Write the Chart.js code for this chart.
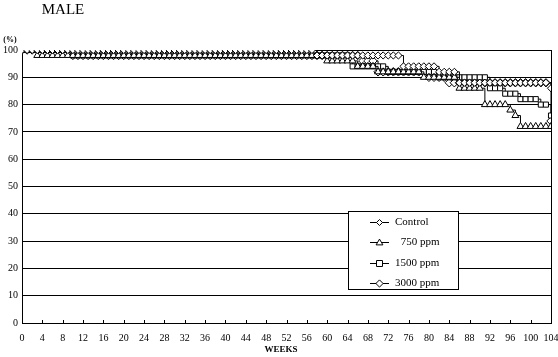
<!DOCTYPE html>
<html>
<head>
<meta charset="utf-8">
<script src="https://cdn.jsdelivr.net/npm/chart.js@4"></script>
<style>
html,body{margin:0;padding:0;background:#fff;}
#wrap{width:558px;height:357px;}
</style>
</head>
<body>
<div id="wrap"><canvas id="c" width="558" height="357"></canvas></div>
<script>
// Weeks 0..104 (one survival value per week, %)
const weeks = [];
for (let w = 0; w <= 104; w++) weeks.push(w);

const controlVals = [
  100,100,100,100,100,100,100,100,100,100,
  100,100,100,100,100,100,100,100,100,100,
  100,100,100,100,100,100,100,100,100,100,
  100,100,100,100,100,100,100,100,100,100,
  100,100,100,100,100,100,100,100,100,100,
  100,100,100,100,100,100,100,100,98,98,
  98,98,98,98,98,98,98,98,98,98,
  98,98,98,98,98,94,94,94,94,94,
  94,94,92,92,92,92,88,88,88,88,
  88,88,88,88,88,88,88,88,88,88,
  88,88,88,88,86
];
const ppm750Vals = [
  100,100,100,98,98,98,98,98,98,98,
  98,98,98,98,98,98,98,98,98,98,
  98,98,98,98,98,98,98,98,98,98,
  98,98,98,98,98,98,98,98,98,98,
  98,98,98,98,98,98,98,98,98,98,
  98,98,98,98,98,98,98,98,98,98,
  96,96,96,96,96,96,94,94,94,94,
  92,92,92,92,92,92,92,92,92,90,
  90,90,90,90,90,90,86,86,86,86,
  86,80,80,80,80,80,78,76,72,72,
  72,72,72,72,72
];
const ppm1500Vals = [
  100,100,100,100,100,100,100,100,100,100,
  98,98,98,98,98,98,98,98,98,98,
  98,98,98,98,98,98,98,98,98,98,
  98,98,98,98,98,98,98,98,98,98,
  98,98,98,98,98,98,98,98,98,98,
  98,98,98,98,98,98,98,98,98,98,
  98,98,98,98,98,94,94,94,94,94,
  94,94,92,92,92,92,92,92,92,92,
  92,92,90,90,90,90,90,90,90,90,
  90,90,86,86,86,84,84,84,82,82,
  82,82,80,80,76
];
const ppm3000Vals = [
  100,100,100,100,100,100,100,100,100,100,
  98,98,98,98,98,98,98,98,98,98,
  98,98,98,98,98,98,98,98,98,98,
  98,98,98,98,98,98,98,98,98,98,
  98,98,98,98,98,98,98,98,98,98,
  98,98,98,98,98,98,98,98,98,98,
  98,98,98,98,98,98,98,96,96,96,
  92,92,92,92,92,92,92,92,92,92,
  90,90,90,90,88,88,88,88,88,88,
  88,88,88,88,88,88,88,88,88,88,
  88,88,88,88,74
];
const seriesNames = ['Control', ' 750 ppm', '1500 ppm', '3000 ppm'];
const xTicks = [0,4,8,12,16,20,24,28,32,36,40,44,48,52,56,60,64,68,72,76,80,84,88,92,96,100,104];
const yTicks = [0,10,20,30,40,50,60,70,80,90,100];

const FONT = '"Liberation Serif", "DejaVu Serif", serif';
const styles = [
  {pointStyle:'rectRot', radius:3.6},
  {pointStyle:'triangle', radius:4},
  {pointStyle:'rect', radius:3.6},
  {pointStyle:'rectRot', radius:4.2}
];
const allVals = [controlVals, ppm750Vals, ppm1500Vals, ppm3000Vals];

const datasets = allVals.map((vals, i) => ({
  label: seriesNames[i],
  data: vals.map((v, k) => ({x: weeks[k], y: v})),
  borderColor: '#000',
  borderWidth: 1,
  backgroundColor: '#fff',
  pointBackgroundColor: '#fff',
  pointBorderColor: '#000',
  pointBorderWidth: 1,
  pointStyle: styles[i].pointStyle,
  pointRadius: styles[i].radius,
  stepped: true,
  fill: false
}));

function drawMarker(ctx, style, r, x, y) {
  ctx.beginPath();
  if (style === 'rectRot') {
    ctx.moveTo(x, y - r); ctx.lineTo(x + r, y); ctx.lineTo(x, y + r); ctx.lineTo(x - r, y); ctx.closePath();
  } else if (style === 'triangle') {
    ctx.moveTo(x, y - r); ctx.lineTo(x + r, y + r * 0.7); ctx.lineTo(x - r, y + r * 0.7); ctx.closePath();
  } else {
    ctx.rect(x - r, y - r, 2 * r, 2 * r);
  }
  ctx.fillStyle = '#fff'; ctx.fill();
  ctx.strokeStyle = '#000'; ctx.lineWidth = 1; ctx.stroke();
}

const decor = {
  id: 'decor',
  afterDatasetsDraw(chart) {
    const ctx = chart.ctx;
    const a = chart.chartArea;
    const xs = chart.scales.x;
    ctx.save();
    // right frame line
    ctx.strokeStyle = '#000'; ctx.lineWidth = 1;
    ctx.beginPath();
    ctx.moveTo(Math.round(a.right) + 0.5, a.top);
    ctx.lineTo(Math.round(a.right) + 0.5, a.bottom);
    ctx.stroke();
    // x tick marks (inside)
    xTicks.forEach(t => {
      const px = Math.round(xs.getPixelForValue(t)) + 0.5;
      ctx.beginPath(); ctx.moveTo(px, a.bottom); ctx.lineTo(px, a.bottom - 3); ctx.stroke();
    });
    // legend box
    const lx = 348, ly = 211, lw = 110, lh = 78;
    ctx.fillStyle = '#fff';
    ctx.fillRect(lx, ly, lw, lh);
    ctx.strokeRect(lx + 0.5, ly + 0.5, lw, lh);
    const rows = [222, 242, 263, 283];
    ctx.font = '11px ' + FONT;
    ctx.textBaseline = 'middle';
    ctx.textAlign = 'left';
    seriesNames.forEach((n, i) => {
      const y = rows[i] + 0.5;
      ctx.beginPath(); ctx.moveTo(370, y); ctx.lineTo(389, y); ctx.stroke();
      drawMarker(ctx, styles[i].pointStyle, styles[i].radius - 0.6, 379.5, y);
      ctx.fillStyle = '#000';
      ctx.fillText(n, i === 1 ? 398 : 395, rows[i]);
    });
    // texts
    ctx.fillStyle = '#000';
    ctx.textAlign = 'center';
    ctx.font = '15px ' + FONT;
    ctx.fillText('MALE', 63, 10);
    ctx.font = 'bold 8px ' + FONT;
    ctx.fillText('(%)', 10, 40);
    ctx.font = 'bold 9px ' + FONT;
    ctx.fillText('WEEKS', 281, 350);
    ctx.restore();
  }
};

new Chart(document.getElementById('c'), {
  type: 'line',
  data: { datasets },
  options: {
    responsive: false,
    animation: false,
    devicePixelRatio: 1,
    layout: { padding: { top: 50, right: 0, left: 0, bottom: 0 } },
    plugins: { legend: { display: false }, tooltip: { enabled: false }, title: { display: false } },
    scales: {
      x: {
        type: 'linear',
        min: 0, max: 104,
        afterBuildTicks: s => { s.ticks = xTicks.map(v => ({value: v})); },
        ticks: { color: '#000', font: { family: FONT, size: 10 }, padding: 9, maxRotation: 0, autoSkip: false },
        grid: { display: true, drawOnChartArea: false, drawTicks: false },
        border: { display: true, color: '#000', width: 1 },
        afterFit: s => { s.height = 34; s.paddingRight = 7; s.paddingLeft = 0; }
      },
      y: {
        min: 0, max: 100,
        afterBuildTicks: s => { s.ticks = yTicks.map(v => ({value: v})); },
        ticks: { color: '#000', font: { family: FONT, size: 10 }, padding: 4 },
        grid: { color: '#000', lineWidth: 1, drawTicks: false },
        border: { display: true, color: '#000', width: 1 },
        afterFit: s => { s.width = 22; }
      }
    }
  },
  plugins: [decor]
});
</script>
</body>
</html>
